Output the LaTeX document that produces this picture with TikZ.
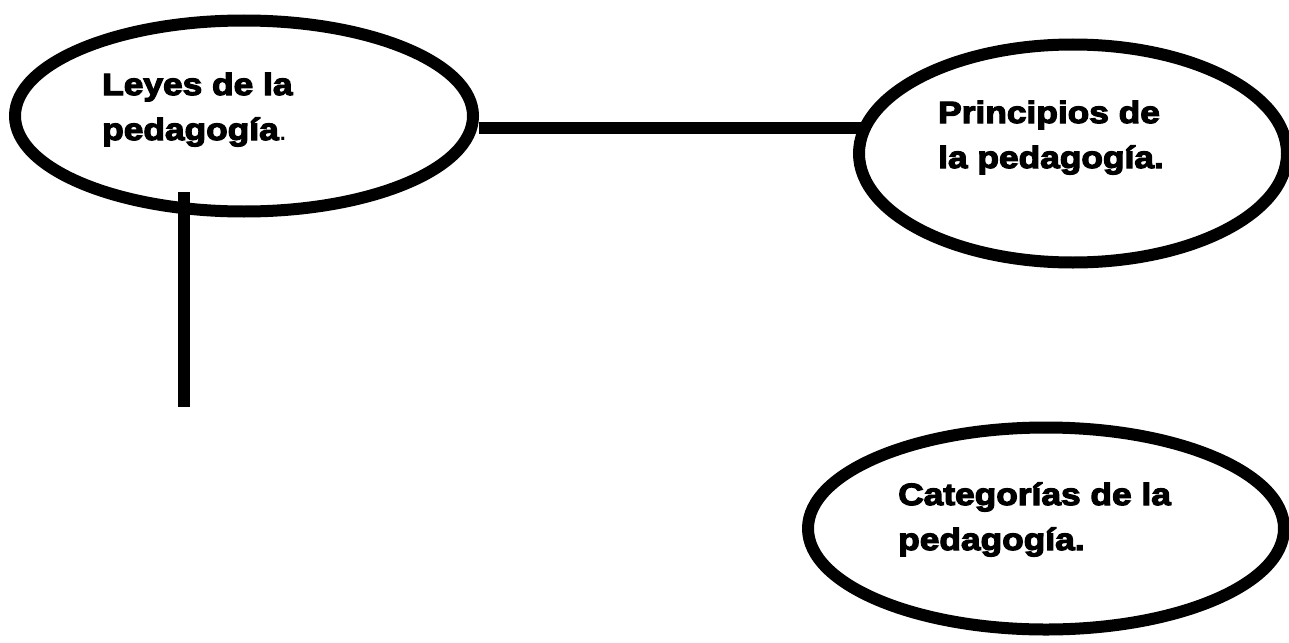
\documentclass[tikz,border=0pt]{standalone}
\usepackage{fontspec}
\setmainfont{Liberation Sans}
\newfontfamily\lblfont{Liberation Sans Bold}[FakeStretch=1.15,FakeBold=4]
\newfontfamily\plainfont{Liberation Sans}
\usetikzlibrary{shapes.geometric}
\tikzset{
  bubble/.style={ellipse, draw=black, line width=12pt, inner sep=0pt, fill=white},
  lbl/.style={anchor=base west, align=left, inner sep=0pt,
    font={\fontsize{30.7}{45}\selectfont\lblfont}},
  link/.style={line width=12pt, line cap=butt}
}
\begin{document}
\begin{tikzpicture}[x=1pt,y=-1pt]
\useasboundingbox (0,0) rectangle (1289,642);
\node[bubble, minimum width=458pt, minimum height=191pt] (e1) at (244,116) {};
\node[bubble, minimum width=428pt, minimum height=218pt] (e2) at (1073,153.5) {};
\node[bubble, minimum width=476pt, minimum height=202pt] (e3) at (1046,528.5) {};
\coordinate (vtop) at (184,192);
\coordinate (vend) at (184,407);
\draw[link] ([yshift=-11.5pt]e1.east) -- ([xshift=8pt,yshift=-11.5pt]e1.east -| e2.west);
\draw[link] (vtop) -- (vend);
\node[lbl] (t1) at (102,140) {Leyes de la\\pedagogía{\plainfont.}};
\node[lbl] (t2) at (938,168) {Principios de\\la pedagogía.};
\node[lbl] (t3) at (898,550) {Categorías de la\\pedagogía.};
\end{tikzpicture}
\end{document}
